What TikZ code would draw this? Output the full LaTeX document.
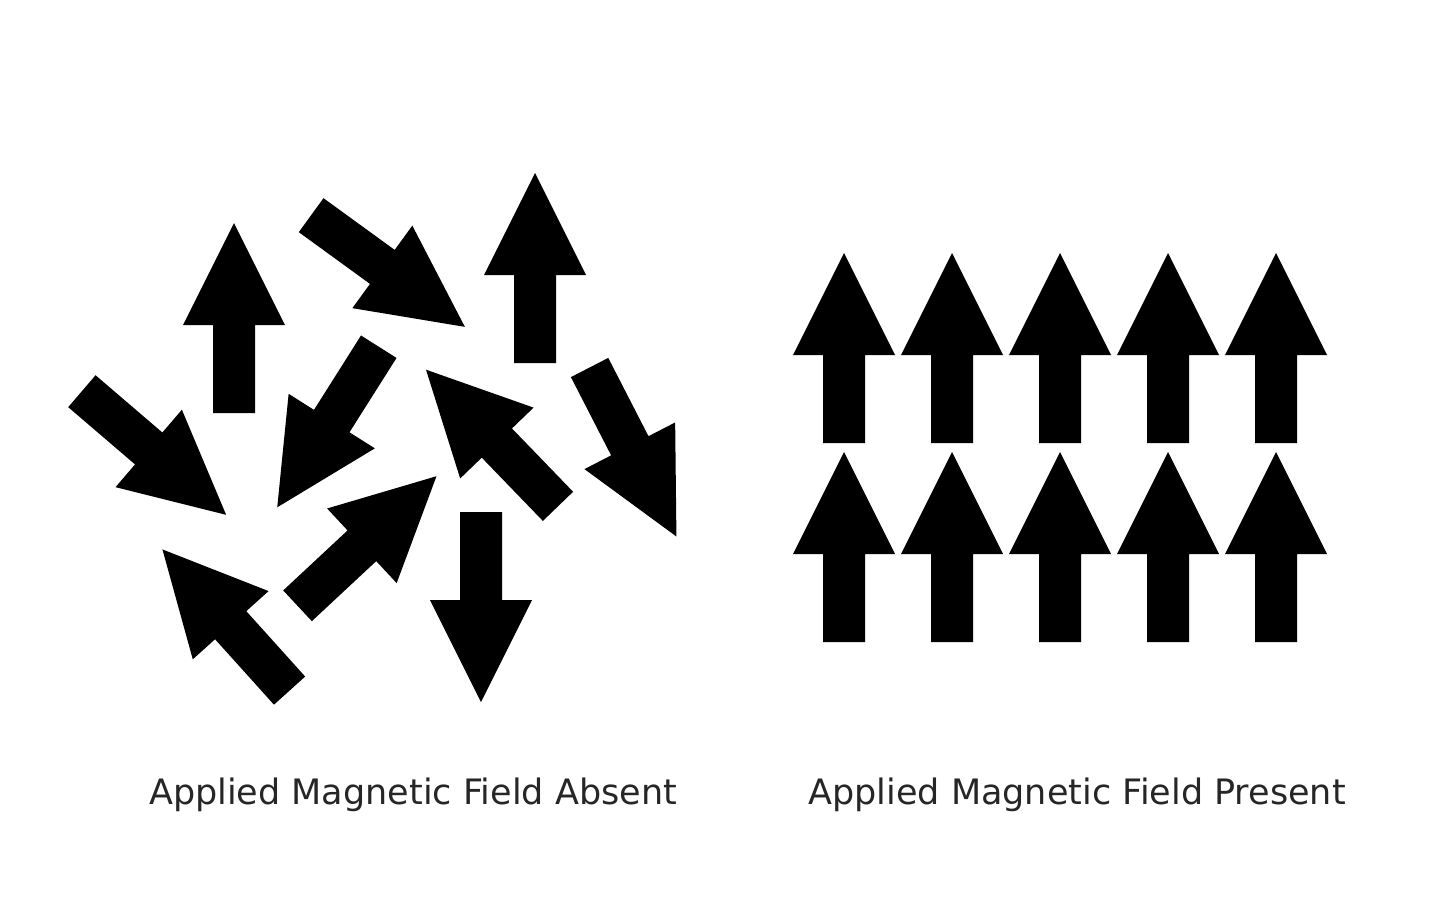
\documentclass[tikz,border=0pt]{standalone}
\usepackage{fontspec}
\setmainfont{DejaVu Sans}
\usetikzlibrary{positioning}
\begin{document}
\begin{tikzpicture}[x=0.5pt, y=0.5pt,
    spin/.pic={%
      \fill[black] (-95,-21) -- (-7,-21) -- (-7,-51) -- (95,0) -- (-7,51)
                   -- (-7,21) -- (-95,21) -- cycle;
    },
    lbl/.style={%
      inner sep=0pt, font=\fontsize{17.5}{20}\selectfont, text=black!85
    }
]
    \useasboundingbox (0,0) rectangle (1440,-901);
    % disordered spins
    \pic[rotate=90]    at (234,-318) {spin};
    \pic[rotate=-36]   at (388,-271) {spin};
    \pic[rotate=90]    at (535,-268) {spin};
    \pic[rotate=-40.6] at (154,-453) {spin};
    \pic[rotate=237.7] at (328,-427) {spin};
    \pic[rotate=134]   at (492,-438) {spin};
    \pic[rotate=-62.8] at (633,-452) {spin};
    \pic[rotate=43]    at (367,-541) {spin};
    \pic[rotate=132]   at (226,-620) {spin};
    \pic[rotate=-90]   at (481,-607) {spin};
    % aligned spins
    \foreach \col in {0,...,4}
      \foreach \row in {0,1}
        \pic[rotate=90] at (844+108*\col,-348-199*\row) {spin};

    \node[lbl] (absent)  at (413,-795) {Applied Magnetic Field Absent};
    \node[lbl] (present) at (1077,-795) {Applied Magnetic Field Present};
\end{tikzpicture}
\end{document}
